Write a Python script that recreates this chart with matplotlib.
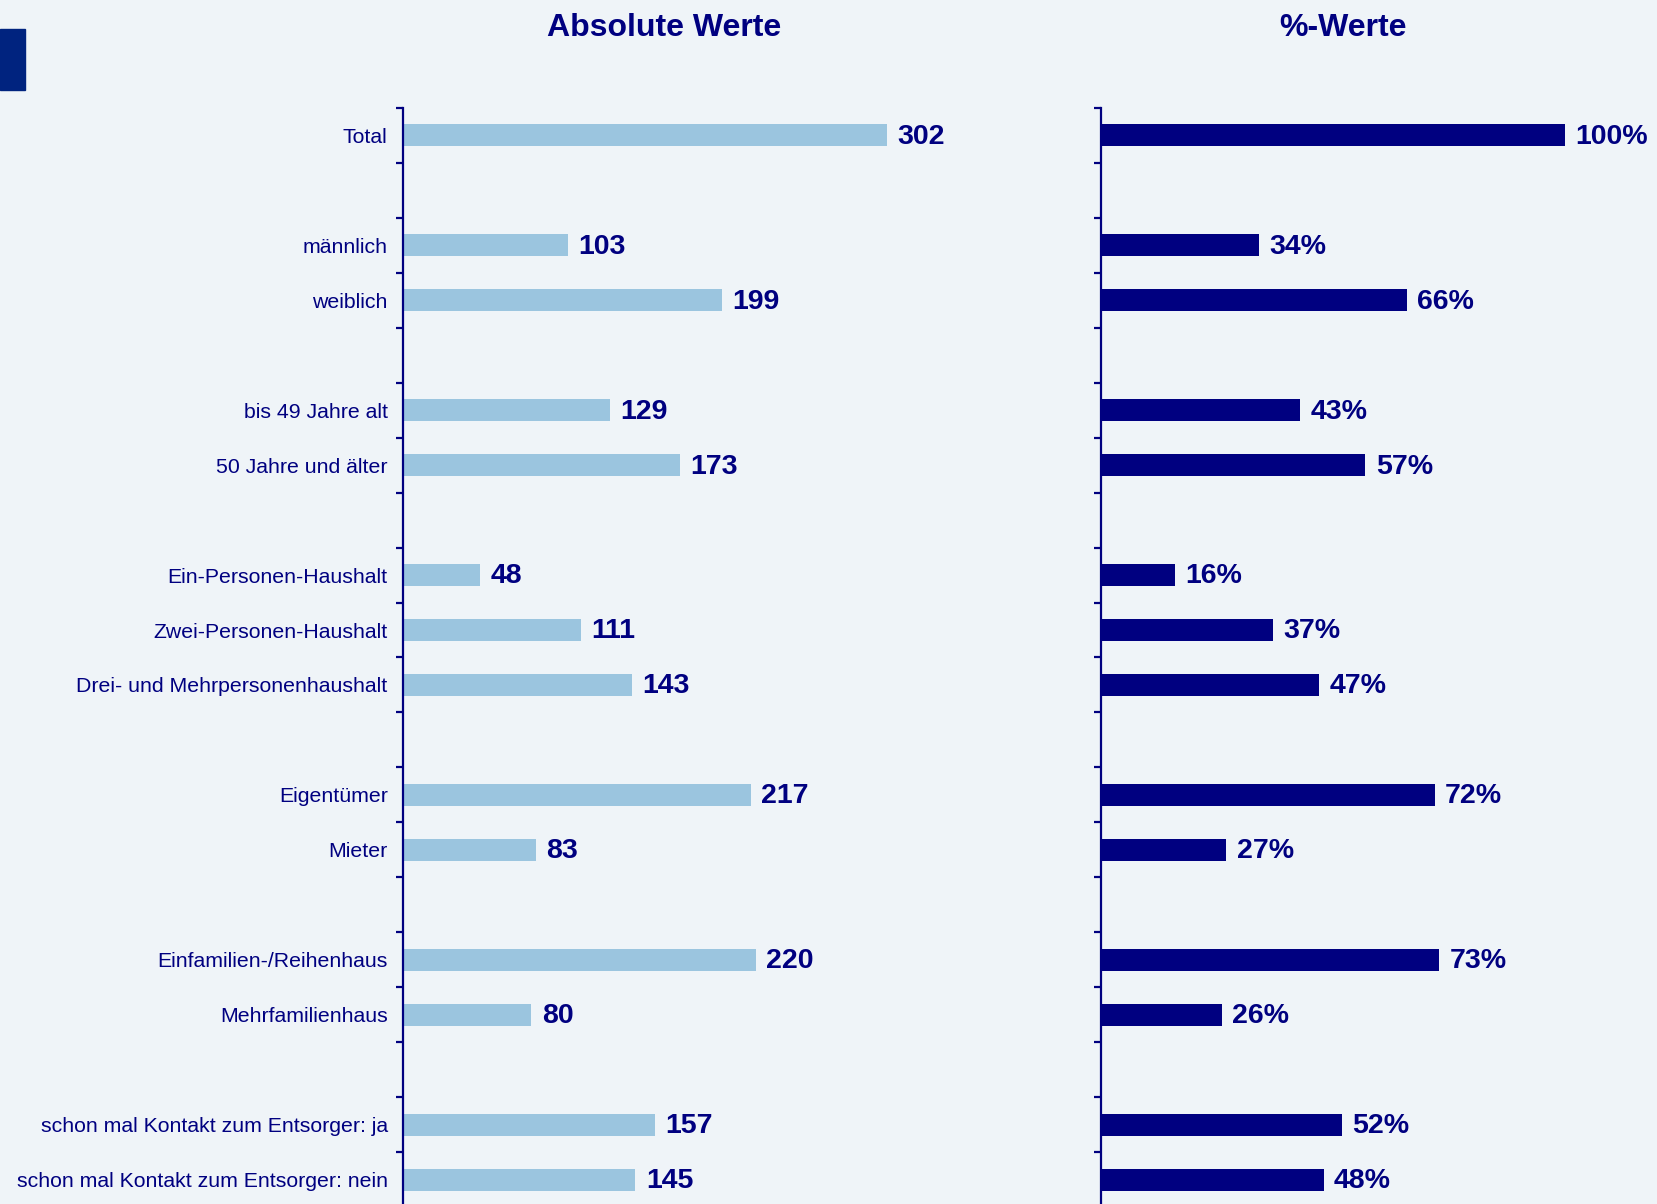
"""
Soziodemografie der Befragten: absolute Werte und %-Werte
"""

import matplotlib
matplotlib.use("Agg")
import matplotlib.pyplot as plt
from matplotlib.patches import Rectangle

# Kategorien von oben nach unten, None = Leerzeile zwischen den Gruppen
kategorien = [
    "Total", None,
    "männlich", "weiblich", None,
    "bis 49 Jahre alt", "50 Jahre und älter", None,
    "Ein-Personen-Haushalt", "Zwei-Personen-Haushalt", "Drei- und Mehrpersonenhaushalt", None,
    "Eigentümer", "Mieter", None,
    "Einfamilien-/Reihenhaus", "Mehrfamilienhaus", None,
    "schon mal Kontakt zum Entsorger: ja", "schon mal Kontakt zum Entsorger: nein",
]

absolut = [302, 103, 199, 129, 173, 48, 111, 143, 217, 83, 220, 80, 157, 145]
prozent = [100, 34, 66, 43, 57, 16, 37, 47, 72, 27, 73, 26, 52, 48]

HELLBLAU = "#9BC5DF"
NAVY = "#000080"
HINTERGRUND = "#EFF4F8"

W, H = 1657, 1204


def positionen():
    """y-Positionen der belegten Zeilen"""
    return [i for i, k in enumerate(kategorien) if k is not None]


def achse_einrichten(ax, n, xmax):
    ax.set_facecolor(HINTERGRUND)
    ax.set_xlim(0, xmax)
    ax.set_ylim(n - 0.5, -0.5)
    for s in ["top", "right", "bottom"]:
        ax.spines[s].set_visible(False)
    ax.spines["left"].set_color(NAVY)
    ax.spines["left"].set_linewidth(1.6)
    ax.set_xticks([])
    # Striche an den Zeilengrenzen
    ax.set_yticks([i - 0.5 for i in range(n + 1)])
    ax.set_yticklabels([])
    ax.tick_params(axis="y", which="major", length=5, width=1.6, color=NAVY)


def balken(ax, ys, werte, farbe, fmt):
    ax.barh(ys, werte, height=0.4, color=farbe, zorder=2)
    for y, v in zip(ys, werte):
        ax.annotate(fmt.format(v), xy=(v, y), xytext=(7.5, -1), textcoords="offset points",
                    va="center", ha="left", fontsize=20.5, fontweight="bold",
                    color=NAVY, annotation_clip=False)


def main():
    plt.rcParams["font.family"] = ["Liberation Sans", "DejaVu Sans"]

    fig = plt.figure(figsize=(W / 100, H / 100), dpi=100, facecolor=HINTERGRUND)
    n = len(kategorien)
    ys = positionen()
    labels = [k for k in kategorien if k is not None]

    oben = 1 - 108 / H
    hoehe = n * 54.95 / H

    # Linke Achse: absolute Werte
    ax1 = fig.add_axes([403 / W, oben - hoehe, 545 / W, hoehe])
    achse_einrichten(ax1, n, 340)
    balken(ax1, ys, absolut, HELLBLAU, "{}")
    ax1.set_yticks(ys, minor=True)
    ax1.set_yticklabels(labels, minor=True, fontsize=15.3, color=NAVY)
    ax1.tick_params(axis="y", which="minor", length=0, pad=11)

    # Rechte Achse: Prozentwerte
    ax2 = fig.add_axes([1101 / W, oben - hoehe, 510 / W, hoehe])
    achse_einrichten(ax2, n, 110)
    balken(ax2, ys, prozent, NAVY, "{}%")

    # Überschriften
    fig.text(664 / W, 1 - 28 / H, "Absolute Werte", ha="center", va="center",
             fontsize=23, fontweight="bold", color=NAVY)
    fig.text(1343 / W, 1 - 28 / H, "%-Werte", ha="center", va="center",
             fontsize=23, fontweight="bold", color=NAVY)

    # Kleines Rechteck oben links
    fig.patches.append(Rectangle((0, 1 - 90 / H), 25 / W, 61 / H,
                                 transform=fig.transFigure, color="#00237F"))

    fig.savefig("out.png", dpi=100, facecolor=HINTERGRUND)


if __name__ == "__main__":
    main()
